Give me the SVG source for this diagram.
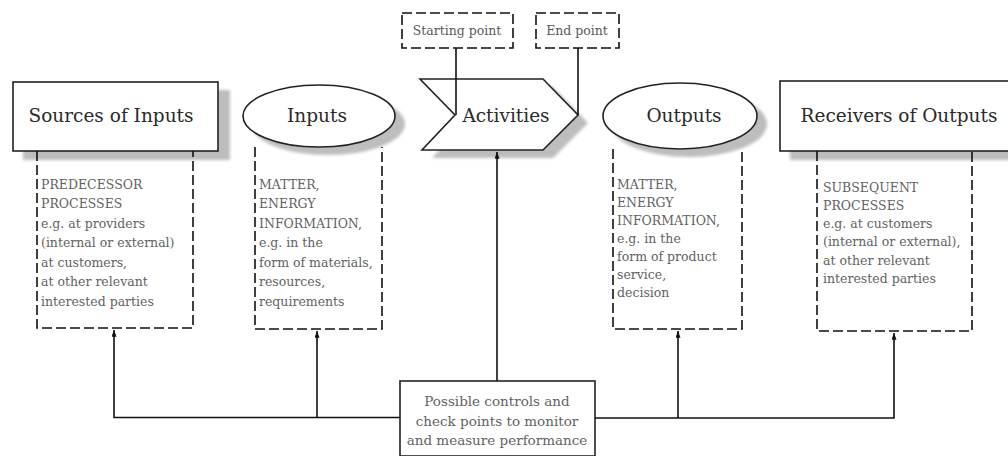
<svg xmlns="http://www.w3.org/2000/svg" width="1008" height="456" viewBox="0 0 1008 456">
  <style>
    .hdr { fill: #fff; stroke: #222; stroke-width: 1.6; }
    .shadow { fill: #bdbdbd; filter: url(#soft); }
    .dash { fill: none; stroke: #111; stroke-width: 1.6; stroke-dasharray: 10 4; }
    .line { fill: none; stroke: #111; stroke-width: 1.6; }
    .title { font-family: "DejaVu Serif", serif; font-size: 18.5px; fill: #2a2a2a; text-anchor: middle; }
    .body { font-family: "DejaVu Serif", serif; font-size: 12.5px; fill: #626262; }
    .small { font-family: "DejaVu Serif", serif; font-size: 12.5px; fill: #5a5a5a; text-anchor: middle; }
    .ctl { font-family: "DejaVu Serif", serif; font-size: 13.5px; fill: #626262; text-anchor: middle; }
  </style>
  <defs>
    <filter id="soft" x="-10%" y="-20%" width="120%" height="140%">
      <feGaussianBlur stdDeviation="1.5"/>
    </filter>
    <marker id="arr" viewBox="0 0 8 6" refX="8" refY="3" markerWidth="8" markerHeight="5" markerUnits="userSpaceOnUse" orient="auto">
      <path d="M0,0 L8,3 L0,6 z" fill="#111"/>
    </marker>
  </defs>
  <rect width="1008" height="456" fill="#fff"/>

  <!-- Sources of Inputs -->
  <g id="sources">
    <rect class="shadow" x="23" y="90" width="207" height="70"/>
    <rect class="hdr" x="13" y="82" width="205" height="69"/>
    <text class="title" x="111" y="122">Sources of Inputs</text>
    <path class="dash" d="M37,151 V328 H193 V151"/>
    <text class="body">
      <tspan x="41" y="188.5">PREDECESSOR</tspan>
      <tspan x="41" y="208">PROCESSES</tspan>
      <tspan x="41" y="227.5">e.g. at providers</tspan>
      <tspan x="41" y="247">(internal or external)</tspan>
      <tspan x="41" y="266.5">at customers,</tspan>
      <tspan x="41" y="286">at other relevant</tspan>
      <tspan x="41" y="305.5">interested parties</tspan>
    </text>
  </g>

  <!-- Inputs -->
  <g id="inputs">
    <ellipse class="shadow" cx="328" cy="124" rx="77" ry="31"/>
    <ellipse class="hdr" cx="319" cy="116" rx="76" ry="31"/>
    <text class="title" x="317" y="122">Inputs</text>
    <path class="dash" d="M255,147 V329 H382 V147"/>
    <text class="body">
      <tspan x="259" y="188.5">MATTER,</tspan>
      <tspan x="259" y="208">ENERGY</tspan>
      <tspan x="259" y="227.5">INFORMATION,</tspan>
      <tspan x="259" y="247">e.g. in the</tspan>
      <tspan x="259" y="266.5">form of materials,</tspan>
      <tspan x="259" y="286">resources,</tspan>
      <tspan x="259" y="305.5">requirements</tspan>
    </text>
  </g>

  <!-- Activities -->
  <g id="activities">
    <polygon class="shadow" points="430,87 553,87 588,123 553,158 432,158 463,123"/>
    <polygon class="hdr" points="420,79 543,79 578,115 543,150 422,150 455,115"/>
    <text class="title" x="506" y="122">Activities</text>
  </g>

  <!-- Starting point / End point -->
  <g id="start">
    <rect class="dash" x="402" y="13" width="111" height="35"/>
    <text class="small" x="457" y="35">Starting point</text>
  </g>
  <g id="end">
    <rect class="dash" x="536" y="13" width="83" height="35"/>
    <text class="small" x="577" y="35">End point</text>
  </g>

  <!-- Outputs -->
  <g id="outputs">
    <ellipse class="shadow" cx="689" cy="124" rx="78" ry="33"/>
    <ellipse class="hdr" cx="680" cy="116" rx="77" ry="33"/>
    <text class="title" x="684" y="122">Outputs</text>
    <path class="dash" d="M613,149 V329 H742 V149"/>
    <text class="body">
      <tspan x="617" y="189">MATTER,</tspan>
      <tspan x="617" y="207">ENERGY</tspan>
      <tspan x="617" y="225">INFORMATION,</tspan>
      <tspan x="617" y="243">e.g. in the</tspan>
      <tspan x="617" y="261">form of product</tspan>
      <tspan x="617" y="279">service,</tspan>
      <tspan x="617" y="297">decision</tspan>
    </text>
  </g>

  <!-- Receivers of Outputs -->
  <g id="receivers">
    <rect class="shadow" x="790" y="89" width="230" height="71"/>
    <rect class="hdr" x="780" y="81" width="240" height="70"/>
    <text class="title" x="899" y="122">Receivers of Outputs</text>
    <path class="dash" d="M817,151 V331 H972 V151"/>
    <text class="body">
      <tspan x="823" y="191.5">SUBSEQUENT</tspan>
      <tspan x="823" y="209.8">PROCESSES</tspan>
      <tspan x="823" y="228">e.g. at customers</tspan>
      <tspan x="823" y="246.3">(internal or external),</tspan>
      <tspan x="823" y="264.5">at other relevant</tspan>
      <tspan x="823" y="283">interested parties</tspan>
    </text>
  </g>

  <!-- Controls -->
  <g id="controls">
    <rect x="400" y="381" width="195" height="75" fill="#fff" stroke="#222" stroke-width="1.6"/>
    <text class="ctl" x="497" y="406">Possible controls and</text>
    <text class="ctl" x="497" y="425.5">check points to monitor</text>
    <text class="ctl" x="497" y="444.5">and measure performance</text>
  </g>

  <!-- Connectors -->
  <g id="connectors">
    <path class="line" d="M456,48 V115"/>
    <path class="line" d="M578,48 V115"/>
    <path class="line" d="M497,381 V152" marker-end="url(#arr)"/>
    <path class="line" d="M400,417.5 H114 V330" marker-end="url(#arr)"/>
    <path class="line" d="M317,417.5 V331" marker-end="url(#arr)"/>
    <path class="line" d="M595,418 H894 V333" marker-end="url(#arr)"/>
    <path class="line" d="M678,418 V331" marker-end="url(#arr)"/>
  </g>
</svg>
